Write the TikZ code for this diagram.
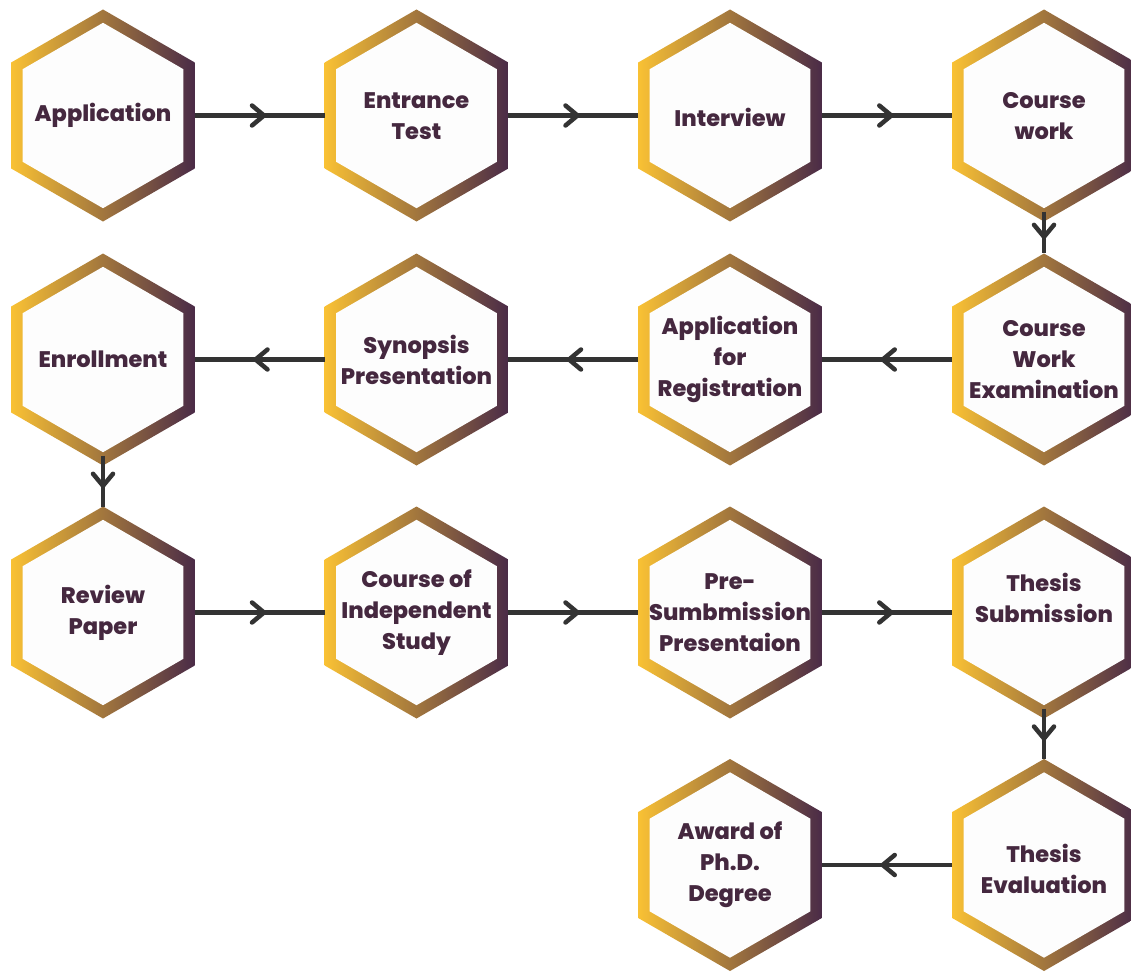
\documentclass[tikz,border=0pt]{standalone}
\usepackage{fontspec}
\setmainfont{Poppins}[BoldFont={Poppins ExtraBold}]
\usetikzlibrary{shapes.geometric,arrows.meta,decorations.markings,calc}
\definecolor{hy}{HTML}{F9C134}
\definecolor{hp}{HTML}{4A2B47}
\definecolor{txtc}{HTML}{45283F}
\definecolor{connc}{HTML}{333333}
\definecolor{innerc}{HTML}{FDFDFD}
\tikzset{
  hexbox/.style={regular polygon, regular polygon sides=6, shape border rotate=30,
    minimum size=212pt, inner sep=0pt, outer sep=0pt, draw=none,
    path picture={
      \shade[left color=hy, right color=hp] (path picture bounding box.south west) rectangle (path picture bounding box.north east);
      \fill[innerc] ($(path picture bounding box.center)+(30:92.7pt)$)
        -- ($(path picture bounding box.center)+(90:92.7pt)$)
        -- ($(path picture bounding box.center)+(150:92.7pt)$)
        -- ($(path picture bounding box.center)+(210:92.7pt)$)
        -- ($(path picture bounding box.center)+(270:92.7pt)$)
        -- ($(path picture bounding box.center)+(330:92.7pt)$) -- cycle;
    }},
  hextext/.style={font=\fontsize{22.5}{31}\selectfont\bfseries, text=txtc, align=center, inner sep=0pt},
  conn/.style={draw=connc, line width=4.5pt, postaction={decorate},
    decoration={markings, mark=at position 0.55 with {\arrow{Straight Barb[length=12pt,width=20pt,round]}}}},
  vconn/.style={conn, shorten <=-10pt}
}
\begin{document}
\begin{tikzpicture}[x=1pt,y=-1pt]
\useasboundingbox[fill=white] (0,0) rectangle (1131,971);
% row 1
\node[hexbox] (app) at (103,115.5) {};
\node[hexbox] (ent) at (416.5,115.5) {};
\node[hexbox] (int) at (730,115.5) {};
\node[hexbox] (cw) at (1044,115.5) {};
% row 2
\node[hexbox] (enr) at (103,359.5) {};
\node[hexbox] (syn) at (416.5,359.5) {};
\node[hexbox] (afr) at (730,359.5) {};
\node[hexbox] (cwe) at (1044,359.5) {};
% row 3
\node[hexbox] (rev) at (103,612.5) {};
\node[hexbox] (cis) at (416.5,612.5) {};
\node[hexbox] (pre) at (730,612.5) {};
\node[hexbox] (ths) at (1044,612.5) {};
% row 4
\node[hexbox] (awd) at (730,865) {};
\node[hexbox] (the) at (1044,865) {};
% texts
\node[hextext] (t1) at (app) {Application};
\node[hextext] (t2) at ([yshift=-1pt]ent.center) {Entrance\\Test};
\node[hextext] (t3) at ([yshift=-1.5pt]int.center) {Interview};
\node[hextext] (t4) at ([yshift=-1pt]cw.center) {Course\\work};
\node[hextext] (t5) at (enr) {Enrollment};
\node[hextext] (t6) at (syn) {Synopsis\\Presentation};
\node[hextext] (t7) at (afr) {Application\\for\\Registration};
\node[hextext] (t8) at (cwe) {Course\\Work\\Examination};
\node[hextext] (t9) at (rev) {Review\\Paper};
\node[hextext] (t10) at (cis) {Course of\\Independent\\Study};
\node[hextext] (t11) at (pre) {Pre-\\Sumbmission\\Presentaion};
\node[hextext] (t12) at ([yshift=15pt]ths.center) {Thesis\\Submission};
\node[hextext] (t13) at (awd) {Award of\\Ph.D.\\Degree};
\node[hextext] (t14) at ([yshift=-4pt]the.center) {Thesis\\Evaluation};
% connectors
\draw[conn] (app) -- (ent);
\draw[conn] (ent) -- (int);
\draw[conn] (int) -- (cw);
\draw[vconn] (cw) -- (cwe);
\draw[conn] (cwe) -- (afr);
\draw[conn] (afr) -- (syn);
\draw[conn] (syn) -- (enr);
\draw[vconn] (enr) -- (rev);
\draw[conn] (rev) -- (cis);
\draw[conn] (cis) -- (pre);
\draw[conn] (pre) -- (ths);
\draw[vconn] (ths) -- (the);
\draw[conn] (the) -- (awd);
\end{tikzpicture}
\end{document}
